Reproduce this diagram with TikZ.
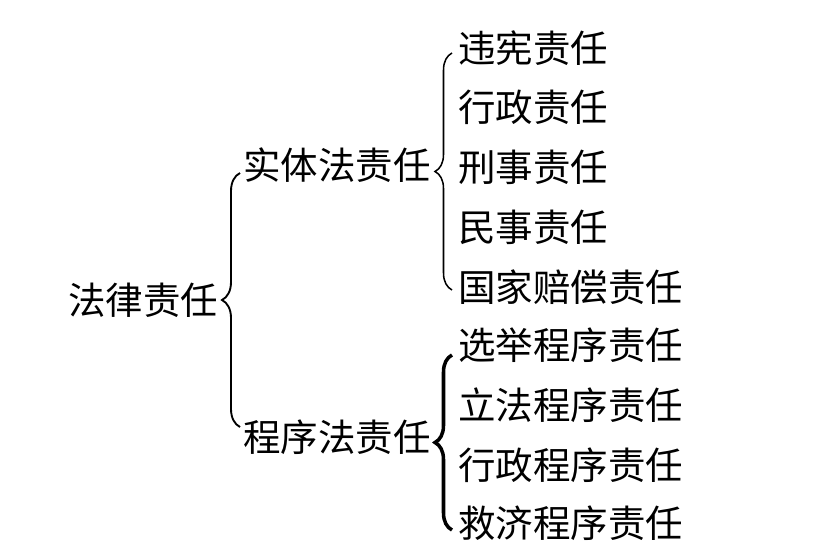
\documentclass[tikz,border=0pt]{standalone}
\usepackage{fontspec}
\setmainfont{Noto Sans CJK SC}
\usetikzlibrary{positioning,calc,decorations.pathreplacing}

\tikzset{
  item/.style={anchor=west, inner sep=0pt, font=\fontsize{32}{36}\selectfont},
  bigbrace/.style={draw, line width=1.6pt, decorate, decoration={brace, amplitude=0.54cm}},
  leafbrace/.style={draw, line width=1.3pt, decorate, decoration={brace, amplitude=0.51cm}},
  procbrace/.style={draw, line width=3pt, decorate, decoration={brace, amplitude=0.51cm}}
}

\begin{document}
\begin{tikzpicture}[x=0.03cm, y=-0.03cm]
    \useasboundingbox (0,0) rectangle (813,554);

    % root
    \node[item] (root) at (68,300) {法律责任};

    % middle level
    \node[item] (sub1) at (243,165) {实体法责任};
    \node[item] (sub2) at (243,437) {程序法责任};

    % leaves of sub1
    \node[item] (a1) at (458,48)  {违宪责任};
    \node[item] (a2) at (458,107) {行政责任};
    \node[item] (a3) at (458,167) {刑事责任};
    \node[item] (a4) at (458,227) {民事责任};
    \node[item] (a5) at (458,287) {国家赔偿责任};

    % leaves of sub2
    \node[item] (b1) at (458,345) {选举程序责任};
    \node[item] (b2) at (458,405) {立法程序责任};
    \node[item] (b3) at (458,465) {行政程序责任};
    \node[item] (b4) at (458,523) {救济程序责任};

    % braces
    \draw[bigbrace]  ($(sub2.west)+(-3,-10)$) -- ($(sub1.west)+(-3,8)$);
    \draw[leafbrace] ($(a5.west)+(-6,3)$) -- ($(a1.west)+(-6,5)$);
    \draw[procbrace] ($(b4.west)+(-6,7)$) -- ($(b1.west)+(-6,10)$);
\end{tikzpicture}
\end{document}
